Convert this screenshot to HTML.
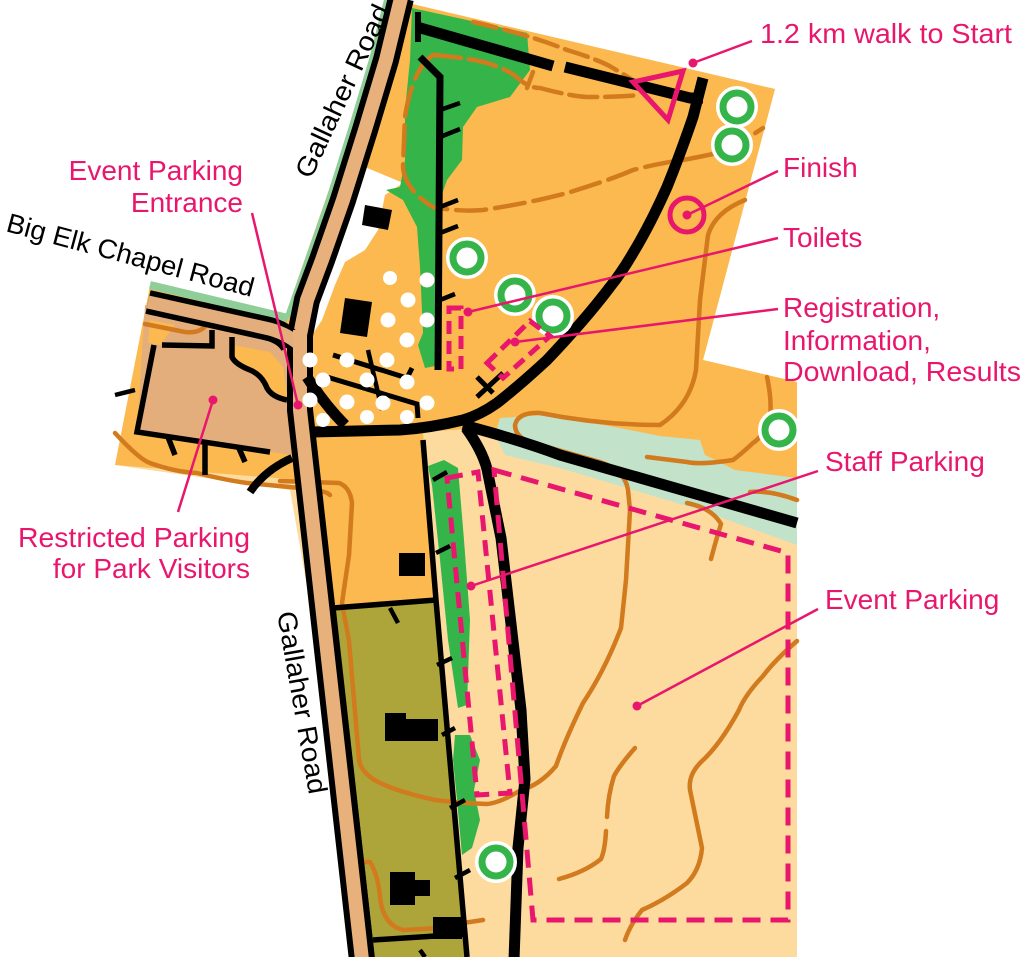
<!DOCTYPE html>
<html><head><meta charset="utf-8"><style>
html,body{margin:0;padding:0;background:#fff;}
svg{display:block;}
.lbl{font-family:"Liberation Sans",sans-serif;font-size:28px;fill:#e8166c;}
.blk{font-family:"Liberation Sans",sans-serif;font-size:27px;fill:#000;}
</style></head><body>
<svg width="1024" height="957" viewBox="0 0 1024 957" xmlns="http://www.w3.org/2000/svg">
<polygon points="395,0 775,89 703,360 797,382 797,957 372,957 290,490 115,465 150,286 283,322" fill="#fddb9f"/>
<polygon points="395,0 775,89 703,360 797,382 797,523 480,428 423,432 436,602 333,608 300,480 115,465 150,286 283,322" fill="#fbb94f"/>
<path d="M413,187 L400,185 L385,195 L378,230 L365,250 L345,262 L335,285 L322,320 L312,335 L318,300 L330,240 L340,200 L360,165 Z" fill="#fff"/>
<path d="M412,8 L527,33 L530,70 L510,97 L477,107 L463,127 L462,160 L447,180 L440,200 L440,365 L425,368 L418,345 L423,333 L420,267 L417,227 L403,200 L386,190 L400,187 L405,160 L405,110 L410,60 Z" fill="#35b44a"/>
<path d="M500,418 L545,415 L620,428 L660,436 L700,440 L705,455 L735,470 L797,478 L797,545 L700,510 L650,495 L560,468 L505,455 L495,435 Z" fill="#c2e2c9"/>
<polygon points="333,608 436,600 467,957 372,957" fill="#ada53a"/>
<path d="M428,466 L444,460 L458,468 L464,540 L470,620 L467,705 L458,708 L448,640 L440,560 L432,485 Z" fill="#35b44a"/>
<path d="M455,735 L470,735 L480,760 L474,790 L480,820 L472,848 L462,855 L457,800 L453,760 Z" fill="#35b44a"/>
<path d="M145,305 L285,330 L292,455 L137,432 Z" fill="#e3ae7b"/>
<path d="M233,345 L270,352 L283,367 L288,400 L277,398 L267,390 L257,375 L233,363 Z" fill="#fbb94f"/>
<path d="M150,320 L175,325 L160,345 L148,343 Z" fill="#fbb94f"/>

<g fill="none" stroke="#d27a1e" stroke-width="4.5" stroke-linecap="round">
<path d="M433,55 Q412,70 405,117 L403,167 Q405,190 433,207 Q460,212 483,210 Q530,203 567,193 Q610,180 633,170 Q660,163 683,160 Q710,155 730,150 L763,128" stroke-dasharray="30,9"/>
<path d="M433,55 Q470,58 487,63 Q510,70 520,80 Q530,88 540,88 Q570,96 587,97 Q620,97 640,95" stroke-dasharray="28,8"/>
<path d="M473,22 Q530,35 567,50 Q600,60 613,68 Q630,78 640,85" stroke-dasharray="24,8"/>
<path d="M533,72 L527,88"/>
<path d="M745,200 Q715,212 708,235 L700,300 L696,370 Q690,405 660,425 Q600,425 540,413 Q518,412 515,425 Q515,440 540,445 L600,462 Q625,470 628,490 L630,510 L626,580 L621,628 Q605,670 583,703 Q565,740 556,766 Q540,785 521,790 Q500,803 487,804 Q460,803 435,800 Q390,790 373,779 Q360,770 359,759 L349,641 L342,603 L349,555 L352,503 Q350,487 339,483 L280,481"/>
<path d="M767,377 Q772,400 770,417 Q765,435 753,443 Q740,455 733,460 Q700,465 687,462 L647,457"/>
<path d="M797,641 Q775,660 763,676 Q745,695 739,710 Q720,745 701,762 Q688,775 690,790 L702,848 Q700,870 687,883 Q665,900 642,910 Q630,925 625,940"/>
<path d="M635,748 Q620,765 614,776 Q608,795 607,817 M606,831 Q605,850 601,859 Q585,872 559,879"/>
<path d="M711,559 Q716,540 721,524 Q712,508 687,503"/>
<path d="M797,500 Q770,490 750,492"/>
<path d="M345,862 L370,862 Q378,875 380,897 Q383,925 403,930 L440,928 M450,925 L483,920" />
<path d="M200,298 Q215,302 208,322 Q202,334 185,332 L145,324"/>
<path d="M115,433 Q140,460 150,463 Q175,472 197,473 Q225,480 247,483 L300,488 Q325,490 330,495"/>
</g>

<path d="M388,-2 L373,58 L352,128 L330,198 L309,258 L295,298 L288,318" fill="none" stroke="#8fce98" stroke-width="7"/>
<path d="M288,318 L150,285" fill="none" stroke="#8fce98" stroke-width="8"/>
<path d="M401,-2 L386,60 L365,130 L343,200 L322,260 L307,300 L300,335 L300,410 L362,960" fill="none" stroke="#000" stroke-width="26"/>
<path d="M401,-2 L386,60 L365,130 L343,200 L322,260 L307,300 L300,335 L300,410 L362,960" fill="none" stroke="#e8b07b" stroke-width="14"/>
<path d="M148,302 L265,328 Q285,332 292,345" fill="none" stroke="#000" stroke-width="24"/>
<path d="M148,302 L265,328 Q285,332 300,345" fill="none" stroke="#e3ae7b" stroke-width="13"/>
<path d="M300,330 L300,360" fill="none" stroke="#e8b07b" stroke-width="14"/>

<g fill="none" stroke="#000" stroke-linecap="butt">
<path d="M703,78 L693,117 Q680,155 667,187 Q650,225 633,253 Q622,272 610,287 Q585,320 547,360 Q520,385 497,403 Q480,415 463,420 Q430,428 400,430 L312,432" stroke-width="11"/>
<path d="M307,377 Q325,405 345,425" stroke-width="11"/>
<path d="M417,27 L553,66" stroke-width="11"/>
<path d="M565,67 L690,98 L703,98" stroke-width="11"/>
<path d="M418,12 L418,42" stroke-width="6"/>
<path d="M463,425 Q520,440 560,455 L797,523" stroke-width="11"/>
<path d="M466,428 Q482,450 487,469 L501,538 L521,710 L525,779 L518,848 L514,960" stroke-width="11"/>
<path d="M420,57 L440,77 L438,370" stroke-width="7"/>
<path d="M440,110 L460,103 M440,137 L460,129 M440,207 L458,200 M440,233 L458,226 M440,300 L455,294" stroke-width="4.5"/>
<path d="M423,440 L436,600 L467,957" stroke-width="5.5"/>
<path d="M433,480 L447,472 M436,553 L450,546 M437,665 L452,658 M442,735 L455,728 M450,808 L465,800 M455,878 L470,870" stroke-width="4.5"/>
<path d="M333,608 L436,600" stroke-width="5.5"/>
<path d="M333,608 L372,957" stroke-width="5.5"/>
<path d="M373,940 L467,934" stroke-width="5.5"/>
<path d="M390,608 L398,623 M420,950 L425,957" stroke-width="4.5"/>
<path d="M333,355 L407,378 L412,368" stroke-width="5"/>
<path d="M327,377 L417,404 L418,418" stroke-width="5"/>
<path d="M368,350 L382,410" stroke-width="4.5"/>
<path d="M477,397 L503,373 M477,377 L493,393" stroke-width="5"/>
<path d="M162,345 L212,346 L212,330" stroke-width="5.5"/>
<path d="M232,337 L232,357 Q235,364 250,370 Q262,375 267,388 Q272,397 287,400" stroke-width="5.5"/>
<path d="M154,345 L137,432 L270,452" stroke-width="5.5"/>
<path d="M168,437 L175,455 M205,441 L205,475 M238,446 L245,462" stroke-width="5.5"/>
<path d="M292,458 Q265,470 250,492" stroke-width="8"/>
<path d="M115,395 L135,390" stroke-width="4.5"/>
</g>

<g fill="#000">
<polygon points="365,205 392,210 388,230 362,225"/>
<polygon points="345,298 372,302 367,337 340,333"/>
<rect x="399" y="553" width="26" height="23"/>
<rect x="385" y="719" width="53" height="22"/>
<rect x="385" y="713" width="21" height="8"/>
<rect x="390" y="872" width="25" height="33"/>
<rect x="414" y="880" width="16" height="16"/>
<rect x="433" y="917" width="29" height="22"/>
</g>

<g fill="#fff">
<circle cx="427" cy="280" r="7.5"/><circle cx="408" cy="300" r="7.5"/><circle cx="427" cy="320" r="7.5"/>
<circle cx="388" cy="320" r="7.5"/><circle cx="407" cy="340" r="7.5"/><circle cx="387" cy="360" r="7.5"/>
<circle cx="347" cy="360" r="7.5"/><circle cx="310" cy="360" r="7.5"/><circle cx="367" cy="380" r="7.5"/>
<circle cx="407" cy="382" r="7.5"/><circle cx="427" cy="403" r="7.5"/><circle cx="347" cy="402" r="7.5"/>
<circle cx="383" cy="403" r="7.5"/><circle cx="323" cy="380" r="7.5"/><circle cx="310" cy="400" r="7.5"/>
<circle cx="323" cy="420" r="7"/><circle cx="367" cy="417" r="7"/><circle cx="407" cy="417" r="7"/>
<circle cx="390" cy="278" r="7"/>
</g>

<g fill="#fff" stroke="#fff" stroke-width="4">
<circle cx="737" cy="107" r="19"/><circle cx="732" cy="145" r="19"/><circle cx="467" cy="258" r="19"/>
<circle cx="515" cy="295" r="19"/><circle cx="553" cy="316" r="19"/><circle cx="779" cy="430" r="19"/>
<circle cx="496" cy="862" r="19"/>
</g>
<g fill="#fff" stroke="#35b44a" stroke-width="7">
<circle cx="737" cy="107" r="14"/><circle cx="732" cy="145" r="14"/><circle cx="467" cy="258" r="14"/>
<circle cx="515" cy="295" r="14"/><circle cx="553" cy="316" r="14"/><circle cx="779" cy="430" r="14"/>
<circle cx="496" cy="862" r="14"/>
</g>

<g fill="none" stroke="#e8166c">
<polygon points="633,82 683,71 668,120" stroke-width="5" stroke-linejoin="miter"/>
<circle cx="687" cy="215" r="17" stroke-width="5"/>
<rect x="449" y="308" width="12" height="61" stroke-width="5" stroke-dasharray="13,7"/>
<polygon points="487,363 530,321 550,336 503,378" stroke-width="5" stroke-dasharray="13,7"/>
<polygon points="447,478 478,472 510,793 477,795" stroke-width="5" stroke-dasharray="16,9"/>
<polygon points="494,470 788,553 788,920 533,920" stroke-width="5" stroke-dasharray="18,10"/>
<g stroke-width="2.5">
<line x1="693" y1="63" x2="752" y2="41"/>
<line x1="687" y1="215" x2="778" y2="171"/>
<line x1="468" y1="312" x2="778" y2="238"/>
<line x1="515" y1="342" x2="778" y2="309"/>
<line x1="471" y1="586" x2="818" y2="471"/>
<line x1="637" y1="706" x2="818" y2="609"/>
<line x1="298" y1="405" x2="252" y2="213"/>
<line x1="213" y1="400" x2="178" y2="512"/>
</g>
</g>
<g fill="#e8166c">
<circle cx="693" cy="63" r="4.5"/><circle cx="687" cy="215" r="4.5"/><circle cx="468" cy="312" r="4.5"/>
<circle cx="515" cy="342" r="4.5"/><circle cx="471" cy="586" r="4.5"/><circle cx="637" cy="706" r="4.5"/>
<circle cx="298" cy="405" r="4.5"/><circle cx="213" cy="400" r="4.5"/>
</g>

<text class="lbl" x="760" y="43" textLength="252" lengthAdjust="spacingAndGlyphs">1.2 km walk to Start</text>
<text class="lbl" x="783" y="177">Finish</text>
<text class="lbl" x="783" y="247">Toilets</text>
<text class="lbl" x="783" y="317">Registration,</text>
<text class="lbl" x="783" y="350">Information,</text>
<text class="lbl" x="783" y="381" textLength="238" lengthAdjust="spacingAndGlyphs">Download, Results</text>
<text class="lbl" x="825" y="471">Staff Parking</text>
<text class="lbl" x="825" y="609">Event Parking</text>
<text class="lbl" x="243" y="180" text-anchor="end">Event Parking</text>
<text class="lbl" x="243" y="212" text-anchor="end">Entrance</text>
<text class="lbl" x="250" y="547" text-anchor="end" textLength="232" lengthAdjust="spacingAndGlyphs">Restricted Parking</text>
<text class="lbl" x="250" y="578" text-anchor="end">for Park Visitors</text>

<text class="blk" transform="translate(5,231) rotate(15)" textLength="255" lengthAdjust="spacingAndGlyphs">Big Elk Chapel Road</text>
<text class="blk" transform="translate(311,180) rotate(-65)" textLength="188" lengthAdjust="spacingAndGlyphs">Gallaher Road</text>
<text class="blk" transform="translate(277,613) rotate(80)" textLength="185" lengthAdjust="spacingAndGlyphs">Gallaher Road</text>
</svg>
</body></html>
